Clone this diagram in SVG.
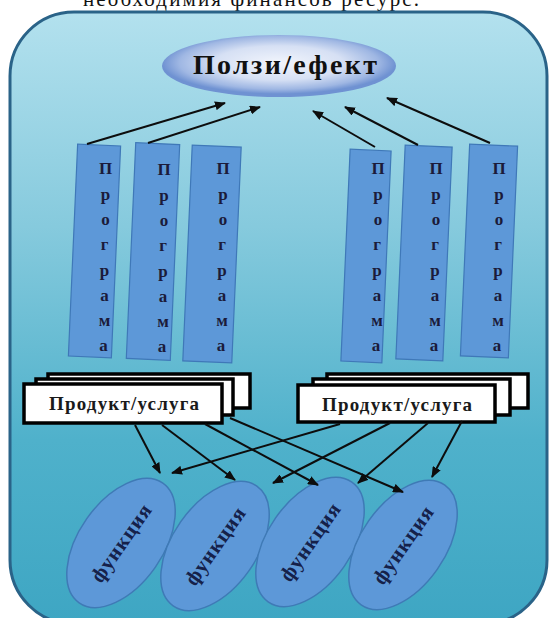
<svg xmlns="http://www.w3.org/2000/svg" width="552" height="618" viewBox="0 0 552 618">
<defs>
<linearGradient id="bg" x1="0" y1="0" x2="0" y2="1">
<stop offset="0" stop-color="#b3e1ee"/>
<stop offset="0.35" stop-color="#86cadd"/>
<stop offset="0.7" stop-color="#4fb1cb"/>
<stop offset="1" stop-color="#3ea6c3"/>
</linearGradient>
<radialGradient id="eg" cx="0.5" cy="0.45" r="0.5">
<stop offset="0" stop-color="#f2f5fc"/>
<stop offset="0.55" stop-color="#d6e0f4"/>
<stop offset="0.85" stop-color="#9fb7e3"/>
<stop offset="1" stop-color="#6f92d2"/>
</radialGradient>
<marker id="ah" markerWidth="11" markerHeight="9" refX="10" refY="4.5" orient="auto" markerUnits="userSpaceOnUse">
<path d="M0,0 L11,4.5 L0,9 z" fill="#0d0d0d"/>
</marker>
</defs>
<style>
text{font-family:"Liberation Serif","DejaVu Serif","Times New Roman",serif}
.prog{fill:#5d98d8;stroke:#3f78b8;stroke-width:1.2}
.pt{font-weight:bold;font-size:17px;fill:#1b1b3a;text-anchor:middle}
.box{fill:#ffffff;stroke:#000000;stroke-width:3.5}
.bt{font-weight:bold;font-size:19px;fill:#1a1a1a;text-anchor:middle}
.fn{fill:#5d98d8;stroke:#3f7ab6;stroke-width:1.5}
.ft{font-weight:bold;font-size:21px;fill:#15214a;text-anchor:middle}
.con line{stroke:#0d0d0d;stroke-width:2;marker-end:url(#ah)}
</style>
<text x="83" y="6" font-size="21" fill="#111" textLength="336" lengthAdjust="spacing">необходимия финансов ресурс.</text>
<rect id="frame" x="10" y="12" width="537" height="612" rx="64" ry="64" fill="url(#bg)" stroke="#2a6388" stroke-width="3"/>
<g id="benefit">
<ellipse cx="279" cy="66" rx="117" ry="31" fill="url(#eg)"/>
<text x="285" y="74" font-weight="bold" font-size="28" fill="#111" text-anchor="middle" textLength="184" lengthAdjust="spacing">Ползи/ефект</text>
</g>
<g id="prog1" transform="translate(94.5,251)">
<rect class="prog" x="-21.5" y="-106" width="43" height="212" transform="rotate(2.5)"/>
<text class="pt"><tspan x="11" y="-77">П</tspan><tspan x="11" y="-51">р</tspan><tspan x="11" y="-26">о</tspan><tspan x="10" y="-1">г</tspan><tspan x="10" y="25">р</tspan><tspan x="10" y="50">а</tspan><tspan x="10" y="75">м</tspan><tspan x="9" y="100">а</tspan></text>
</g>
<g id="prog2" transform="translate(153,251.5)">
<rect class="prog" x="-22" y="-108" width="44" height="216" transform="rotate(2.5)"/>
<text class="pt"><tspan x="11" y="-77">П</tspan><tspan x="11" y="-51">р</tspan><tspan x="11" y="-26">о</tspan><tspan x="10" y="-1">г</tspan><tspan x="10" y="25">р</tspan><tspan x="10" y="50">а</tspan><tspan x="10" y="75">м</tspan><tspan x="9" y="100">а</tspan></text>
</g>
<g id="prog3" transform="translate(212,254)">
<rect class="prog" x="-24.5" y="-108" width="49" height="216" transform="rotate(2.5)"/>
<text class="pt"><tspan x="11" y="-80">П</tspan><tspan x="11" y="-54">р</tspan><tspan x="11" y="-29">о</tspan><tspan x="10" y="-4">г</tspan><tspan x="10" y="22">р</tspan><tspan x="10" y="47">а</tspan><tspan x="10" y="72">м</tspan><tspan x="9" y="97">а</tspan></text>
</g>
<g id="prog4" transform="translate(366,256)">
<rect class="prog" x="-20.5" y="-106" width="41" height="212" transform="rotate(2.5)"/>
<text class="pt"><tspan x="12" y="-82">П</tspan><tspan x="12" y="-56">р</tspan><tspan x="12" y="-31">о</tspan><tspan x="11" y="-6">г</tspan><tspan x="11" y="20">р</tspan><tspan x="11" y="45">а</tspan><tspan x="11" y="70">м</tspan><tspan x="10" y="95">а</tspan></text>
</g>
<g id="prog5" transform="translate(424,253)">
<rect class="prog" x="-23.5" y="-107" width="47" height="214" transform="rotate(2.5)"/>
<text class="pt"><tspan x="12" y="-79">П</tspan><tspan x="12" y="-53">р</tspan><tspan x="12" y="-28">о</tspan><tspan x="11" y="-3">г</tspan><tspan x="11" y="23">р</tspan><tspan x="11" y="48">а</tspan><tspan x="11" y="73">м</tspan><tspan x="10" y="98">а</tspan></text>
</g>
<g id="prog6" transform="translate(489,251)">
<rect class="prog" x="-24" y="-106" width="48" height="212" transform="rotate(2.5)"/>
<text class="pt"><tspan x="10" y="-77">П</tspan><tspan x="10" y="-51">р</tspan><tspan x="10" y="-26">о</tspan><tspan x="9" y="-1">г</tspan><tspan x="9" y="25">р</tspan><tspan x="9" y="50">а</tspan><tspan x="9" y="75">м</tspan><tspan x="8" y="100">а</tspan></text>
</g>
<g id="product1">
<rect class="box" x="48" y="374" width="202" height="34"/>
<rect class="box" x="36" y="379" width="197" height="36"/>
<rect class="box" x="24" y="384" width="198" height="39"/>
<text class="bt" x="124" y="410" textLength="150" lengthAdjust="spacing">Продукт/услуга</text>
</g>
<g id="product2">
<rect class="box" x="327" y="374" width="201" height="34"/>
<rect class="box" x="313" y="379" width="197" height="36"/>
<rect class="box" x="298" y="385" width="197" height="37"/>
<text class="bt" x="397" y="411" textLength="150" lengthAdjust="spacing">Продукт/услуга</text>
</g>
<g id="func1" transform="translate(121,543) rotate(-55)">
<ellipse class="fn" cx="0" cy="0" rx="73" ry="42"/>
<text class="ft" x="0" y="7" textLength="90" lengthAdjust="spacing">функция</text>
</g>
<g id="func2" transform="translate(215,546) rotate(-55)">
<ellipse class="fn" cx="0" cy="0" rx="73" ry="42"/>
<text class="ft" x="0" y="7" textLength="90" lengthAdjust="spacing">функция</text>
</g>
<g id="func3" transform="translate(310,542) rotate(-55)">
<ellipse class="fn" cx="0" cy="0" rx="73" ry="42"/>
<text class="ft" x="0" y="7" textLength="90" lengthAdjust="spacing">функция</text>
</g>
<g id="func4" transform="translate(403,545) rotate(-55)">
<ellipse class="fn" cx="0" cy="0" rx="73" ry="42"/>
<text class="ft" x="0" y="7" textLength="90" lengthAdjust="spacing">функция</text>
</g>
<g id="connectors" class="con">
<line x1="87" y1="144" x2="225" y2="103"/>
<line x1="148" y1="143" x2="260" y2="107"/>
<line x1="375" y1="147" x2="313" y2="111"/>
<line x1="418" y1="145" x2="345" y2="107"/>
<line x1="490" y1="143" x2="387" y2="98"/>
<line x1="135" y1="425" x2="160" y2="473"/>
<line x1="162" y1="425" x2="235" y2="480"/>
<line x1="205" y1="424" x2="318" y2="485"/>
<line x1="230" y1="418" x2="403" y2="492"/>
<line x1="340" y1="424" x2="172" y2="473"/>
<line x1="390" y1="423" x2="273" y2="483"/>
<line x1="428" y1="423" x2="358" y2="483"/>
<line x1="462" y1="421" x2="432" y2="477"/>
</g>
</svg>
